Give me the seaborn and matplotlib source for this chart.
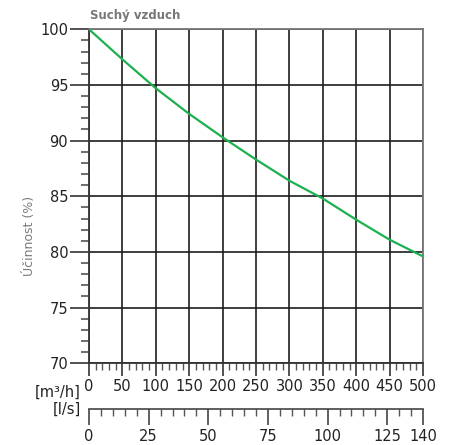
import numpy as np
import pandas as pd
import matplotlib
matplotlib.use("Agg")
import matplotlib.pyplot as plt
import seaborn as sns
from matplotlib.ticker import MultipleLocator, FixedLocator

# data
flow_m3h = [0, 50, 100, 150, 200, 250, 300, 350, 400, 450, 500]
efficiency = [100.0, 97.3, 94.7, 92.4, 90.3, 88.3, 86.4, 84.8, 82.9, 81.1, 79.6]
ls_ticks = [0, 25, 50, 75, 100, 125, 140]

df = pd.DataFrame({"flow": flow_m3h, "eff": efficiency})

sns.set_style("white")
plt.rcParams["font.family"] = ["DejaVu Sans"]

W, H = 454, 445
fig = plt.figure(figsize=(W / 100, H / 100), dpi=100)
ax = fig.add_axes([89 / W, 1 - 363.3 / H, (423 - 89) / W, (363.3 - 29.3) / H])

grid_c = "#1e1e1e"
ax.set_xlim(0, 500)
ax.set_ylim(70, 100)
ax.xaxis.set_major_locator(MultipleLocator(50))
ax.xaxis.set_minor_locator(MultipleLocator(10))
ax.yaxis.set_major_locator(MultipleLocator(5))
ax.yaxis.set_minor_locator(MultipleLocator(1))
ax.grid(True, which="major", color=grid_c, linewidth=1.2)
ax.set_axisbelow(True)

sns.lineplot(data=df, x="flow", y="eff", ax=ax, color="#1db04f", linewidth=1.6, zorder=5)
ax.set_xlabel("")
ax.set_ylabel("")

for s in ["left", "bottom"]:
    ax.spines[s].set_color("#333333")
    ax.spines[s].set_linewidth(1.3)
for s in ["top", "right"]:
    ax.spines[s].set_color("#777777")
    ax.spines[s].set_linewidth(1.3)

ax.tick_params(axis="y", which="major", direction="out", length=14, width=1.2,
               color="#333333", pad=1, labelsize=10.5, labelcolor="#222222", left=True)
ax.tick_params(axis="y", which="minor", direction="out", length=5.5, width=1.2,
               color="#555555", left=True)
ax.tick_params(axis="x", which="major", direction="out", length=9, width=1.2,
               color="#333333", pad=2, labelsize=10.5, labelcolor="#222222", bottom=True)
ax.tick_params(axis="x", which="minor", direction="out", length=5, width=1.0,
               color="#555555", bottom=True)

# title and y label
fig.text(90 / W, 1 - 15 / H, "Suchý vzduch", fontsize=8.5, fontweight="bold",
         color="#777777", va="center", ha="left")
fig.text(30 / W, 1 - 236 / H, "Účinnost (%)", fontsize=9, color="#7a7a7a",
         rotation=90, ha="center", va="center")

# unit labels
fig.text(81 / W, 1 - 392 / H, "[m³/h]", fontsize=10.5, color="#222222", ha="right", va="center")
fig.text(81 / W, 1 - 409 / H, "[l/s]", fontsize=10.5, color="#222222", ha="right", va="center")

# secondary l/s scale
ax2 = fig.add_axes([89 / W, 1 - 409 / H, (423 - 89) / W, 0.0001])
ax2.set_facecolor("none")
ax2.set_xlim(0, 140)
ax2.set_yticks([])
for s in ["left", "right", "top"]:
    ax2.spines[s].set_visible(False)
ax2.spines["bottom"].set_color("#444444")
ax2.spines["bottom"].set_linewidth(1.2)
ax2.xaxis.set_major_locator(FixedLocator(ls_ticks))
ax2.xaxis.set_minor_locator(MultipleLocator(5))
ax2.set_xticklabels([str(t) for t in ls_ticks])
ax2.tick_params(axis="x", which="major", direction="out", length=11.5, width=1.2,
                color="#444444", pad=3, labelsize=10.5, labelcolor="#222222", bottom=True)
ax2.tick_params(axis="x", which="minor", direction="out", length=5, width=1.0,
                color="#555555", bottom=True)

fig.savefig("out.png", dpi=100)
